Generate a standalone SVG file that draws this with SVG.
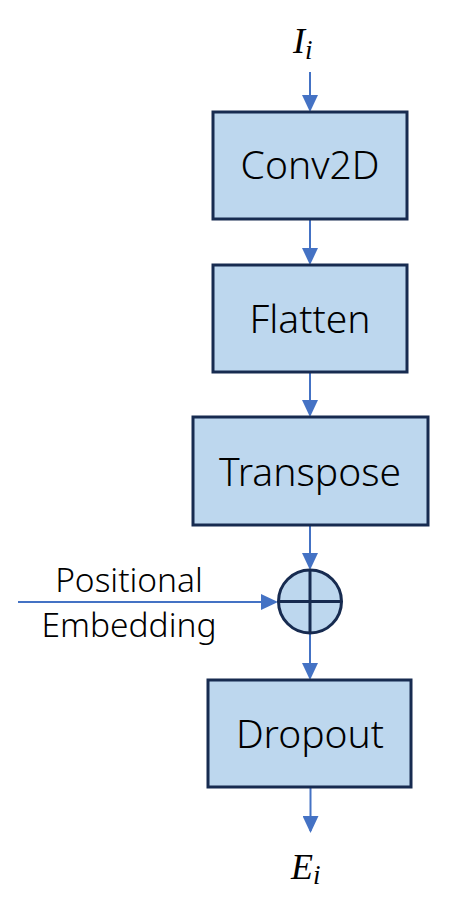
<svg xmlns="http://www.w3.org/2000/svg" width="463" height="919" viewBox="0 0 463 919">
  <style>
    .box { fill: #bdd7ee; stroke: #172b50; stroke-width: 3; }
    .lbl { font-family: "Noto Sans", "Liberation Sans", sans-serif; font-weight: 300; font-size: 39px; fill: #000; text-anchor: middle; }
    .side { font-family: "Noto Sans", "Liberation Sans", sans-serif; font-weight: 300; font-size: 33.5px; fill: #000; text-anchor: middle; }
    .math { font-family: "Liberation Serif", "DejaVu Serif", serif; font-style: italic; fill: #000; }
    .conn { stroke: #4472c4; stroke-width: 2; fill: none; marker-end: url(#arr); }
  </style>
  <defs>
    <marker id="arr" markerUnits="userSpaceOnUse" markerWidth="17" markerHeight="16" refX="15" refY="8" orient="auto">
      <path d="M0,0 L17,8 L0,16 Z" fill="#4472c4"/>
    </marker>
  </defs>
  <rect width="463" height="919" fill="#ffffff"/>

  <g id="connectors">
    <line class="conn" x1="310" y1="72" x2="310" y2="110"/>
    <line class="conn" x1="310" y1="220" x2="310" y2="263"/>
    <line class="conn" x1="310" y1="372" x2="310" y2="415"/>
    <line class="conn" x1="310" y1="526" x2="310" y2="568"/>
    <line class="conn" x1="310" y1="633" x2="310" y2="678"/>
    <line class="conn" x1="310.5" y1="788" x2="310.5" y2="831"/>
    <line class="conn" x1="18" y1="602" x2="276" y2="602"/>
  </g>

  <g id="input">
    <text class="math" x="293" y="53" font-size="36">I<tspan font-size="27" dy="6">i</tspan></text>
  </g>

  <g id="conv2d">
    <rect class="box" x="213" y="112" width="194" height="107"/>
    <text class="lbl" x="310" y="179">Conv2D</text>
  </g>

  <g id="flatten">
    <rect class="box" x="213" y="265" width="194" height="107"/>
    <text class="lbl" x="310" y="333">Flatten</text>
  </g>

  <g id="transpose">
    <rect class="box" x="193" y="417" width="235" height="108"/>
    <text class="lbl" x="310" y="486">Transpose</text>
  </g>

  <g id="add">
    <circle cx="310" cy="601.5" r="31.5" fill="#bdd7ee" stroke="#172b50" stroke-width="3"/>
    <line x1="310" y1="570" x2="310" y2="633" stroke="#172b50" stroke-width="3"/>
    <line x1="278.5" y1="601.5" x2="341.5" y2="601.5" stroke="#172b50" stroke-width="3"/>
  </g>

  <g id="positional-embedding">
    <text class="side" x="129" y="592">Positional</text>
    <text class="side" x="129" y="637">Embedding</text>
  </g>

  <g id="dropout">
    <rect class="box" x="208" y="680" width="203" height="107"/>
    <text class="lbl" x="310" y="748">Dropout</text>
  </g>

  <g id="output">
    <text class="math" x="291" y="879" font-size="36">E<tspan font-size="27" dy="5">i</tspan></text>
  </g>
</svg>
